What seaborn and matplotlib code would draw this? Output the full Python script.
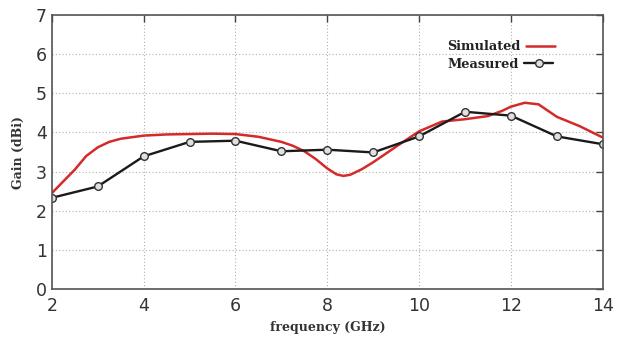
import numpy as np
import pandas as pd
import matplotlib.pyplot as plt
import seaborn as sns

# measured gain (dBi) at each GHz
freq_meas = [2, 3, 4, 5, 6, 7, 8, 9, 10, 11, 12, 13, 14]
gain_meas = [2.33, 2.62, 3.39, 3.76, 3.79, 3.52, 3.56, 3.49, 3.90, 4.53, 4.43, 3.90, 3.70]

# simulated curve
freq_sim = [2.0, 2.25, 2.5, 2.75, 3.0, 3.25, 3.5, 4.0, 4.5, 5.0, 5.5, 6.0, 6.5, 7.0, 7.25,
            7.5, 7.75, 8.0, 8.2, 8.35, 8.5, 8.75, 9.0, 9.5, 10.0, 10.5, 11.0, 11.5, 11.8,
            12.0, 12.3, 12.6, 13.0, 13.5, 14.0]
gain_sim = [2.45, 2.75, 3.05, 3.40, 3.62, 3.76, 3.84, 3.92, 3.95, 3.96, 3.97, 3.96, 3.89, 3.76, 3.66,
            3.52, 3.32, 3.08, 2.93, 2.89, 2.92, 3.06, 3.24, 3.64, 4.03, 4.28, 4.34, 4.42, 4.55,
            4.66, 4.76, 4.72, 4.40, 4.16, 3.87]

df_meas = pd.DataFrame({'freq': freq_meas, 'gain': gain_meas})
df_sim = pd.DataFrame({'freq': freq_sim, 'gain': gain_sim})

sns.set_style('white')
fig = plt.figure(figsize=(6.17, 3.44), dpi=100)
ax = fig.add_axes([0.084, 0.16, 0.893, 0.796])

sns.lineplot(data=df_sim, x='freq', y='gain', color='#d42a2a', linewidth=1.8,
             label='Simulated', ax=ax)
sns.lineplot(data=df_meas, x='freq', y='gain', color='#1a1a1a', linewidth=1.7,
             marker='o', markersize=5.5, markerfacecolor='#e0e0e0', markeredgecolor='#333333',
             markeredgewidth=1.0, label='Measured', ax=ax)

ax.set_xlim(2, 14)
ax.set_ylim(0, 7)
ax.set_xticks(range(2, 15, 2))
ax.set_yticks(range(0, 8))
ax.grid(True, color='#b0b0b0', linestyle=(0, (1, 2)), linewidth=0.8)
ax.tick_params(axis='both', direction='in', length=5, width=1, labelsize=12.5,
               top=True, right=True, labelcolor='#333333', color='#444444')
ax.tick_params(axis='x', pad=6)
for s in ax.spines.values():
    s.set_color('#555555')
    s.set_linewidth(1.2)

lab_font = dict(family='DejaVu Serif', weight='bold', size=9, color='#333333')
ax.set_xlabel('frequency (GHz)', fontdict=lab_font, labelpad=4)
ax.set_ylabel('Gain (dBi)', fontdict=lab_font, labelpad=8)

leg = ax.legend(loc='upper right', bbox_to_anchor=(0.935, 0.95), frameon=False,
                markerfirst=False, handlelength=2.3, handletextpad=0.4,
                labelspacing=0.35, prop={'family': 'DejaVu Serif', 'weight': 'bold', 'size': 9.3})
for t in leg.get_texts():
    t.set_color('#222222')
# left-align the legend labels like the original
leg._legend_handle_box.get_children()[0].align = 'left'

fig.savefig('out.png', dpi=100)
